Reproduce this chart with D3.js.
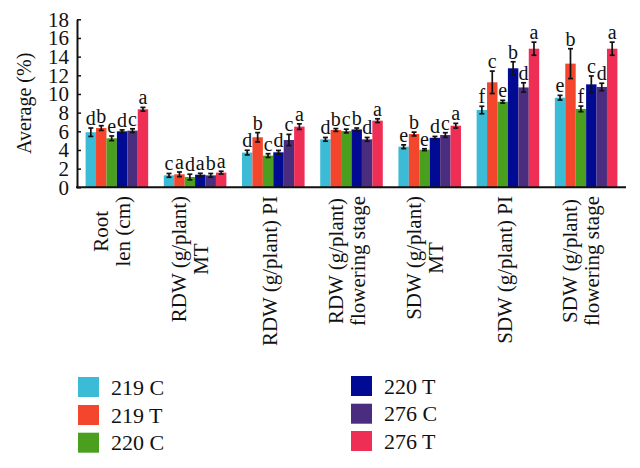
<!DOCTYPE html>
<html><head><meta charset="utf-8">
<script src="https://cdn.jsdelivr.net/npm/d3@7"></script>
<style>body{margin:0;background:#fff;} svg{display:block;}</style>
</head><body>
<svg id="chart" width="640" height="468"></svg>
<script>
const categories = [
  ["Root", "len (cm)"],
  ["RDW (g/plant)", "MT"],
  ["RDW (g/plant) PI"],
  ["RDW (g/plant)", "flowering stage"],
  ["SDW (g/plant)", "MT"],
  ["SDW (g/plant) PI"],
  ["SDW (g/plant)", "flowering stage"]
];
const seriesNames = ["219 C", "219 T", "220 C", "220 T", "276 C", "276 T"];
const seriesColors = ["#3bbbd6", "#f4452d", "#4a9f1e", "#000a92", "#4b2d7f", "#ee2e55"];

const v219C = [5.9, 1.28, 3.72, 5.14, 4.35, 8.28, 9.6];
const v219T = [6.35, 1.39, 5.36, 6.14, 5.71, 11.25, 13.25];
const v220C = [5.25, 1.1, 3.4, 6.03, 4.03, 9.17, 8.4];
const v220T = [6.0, 1.35, 3.75, 6.2, 5.3, 12.75, 11.03];
const v276C = [6.07, 1.28, 5.07, 5.14, 5.6, 10.7, 10.75];
const v276T = [8.36, 1.57, 6.5, 7.14, 6.6, 14.85, 14.85];

const e219C = [0.45, 0.2, 0.25, 0.2, 0.2, 0.4, 0.25];
const e219T = [0.25, 0.25, 0.5, 0.15, 0.2, 1.2, 1.6];
const e220C = [0.25, 0.3, 0.2, 0.2, 0.1, 0.15, 0.3];
const e220T = [0.15, 0.15, 0.2, 0.15, 0.15, 0.7, 0.9];
const e276C = [0.2, 0.2, 0.6, 0.2, 0.25, 0.5, 0.4];
const e276T = [0.2, 0.15, 0.3, 0.2, 0.25, 0.7, 0.7];

const l219C = ["d", "c", "d", "d", "e", "f", "e"];
const l219T = ["b", "a", "b", "b", "b", "c", "b"];
const l220C = ["e", "d", "c", "c", "e", "e", "f"];
const l220T = ["d", "a", "d", "b", "d", "b", "c"];
const l276C = ["c", "b", "c", "d", "c", "d", "d"];
const l276T = ["a", "a", "a", "a", "a", "a", "a"];

const yTicks = [0, 2, 4, 6, 8, 10, 12, 14, 16, 18];

const values = [v219C, v219T, v220C, v220T, v276C, v276T];
const errors = [e219C, e219T, e220C, e220T, e276C, e276T];
const letters = [l219C, l219T, l220C, l220T, l276C, l276T];

const FONT = "'Liberation Serif', 'Times New Roman', serif";
const INK = "#111";
const svg = d3.select("#chart");

const x0 = d3.scaleBand().domain(d3.range(categories.length)).range([77, 626])
  .paddingInner(0.2).paddingOuter(0.11);
const x1 = d3.scaleBand().domain(d3.range(seriesNames.length)).range([0, x0.bandwidth()]).padding(0);
const y = d3.scaleLinear().domain([0, 18]).range([187.3, 19.3]);

const data = [];
categories.forEach((c, ci) => {
  seriesNames.forEach((s, si) => {
    data.push({ci, si, v: values[si][ci], e: errors[si][ci], l: letters[si][ci]});
  });
});

// bars
svg.append("g").selectAll("rect").data(data).join("rect")
  .attr("x", d => x0(d.ci) + x1(d.si))
  .attr("width", x1.bandwidth())
  .attr("y", d => y(d.v))
  .attr("height", d => y(0) - y(d.v))
  .attr("fill", d => seriesColors[d.si]);

// error bars
const eg = svg.append("g").attr("stroke", INK).attr("stroke-width", 1.7);
data.forEach(d => {
  const cx = x0(d.ci) + x1(d.si) + x1.bandwidth() / 2;
  const yt = y(d.v + d.e), yb = y(d.v - d.e);
  eg.append("line").attr("x1", cx).attr("x2", cx).attr("y1", yt).attr("y2", yb);
  eg.append("line").attr("x1", cx - 2.5).attr("x2", cx + 2.5).attr("y1", yt).attr("y2", yt);
  eg.append("line").attr("x1", cx - 2.5).attr("x2", cx + 2.5).attr("y1", yb).attr("y2", yb);
});

// letters
svg.append("g").selectAll("text").data(data).join("text")
  .attr("x", d => x0(d.ci) + x1(d.si) + x1.bandwidth() / 2)
  .attr("y", d => y(d.v + d.e) - 3)
  .attr("text-anchor", "middle")
  .attr("font-family", FONT).attr("font-size", 20).attr("fill", INK)
  .text(d => d.l);

// y axis
const yAxis = d3.axisLeft(y).tickValues(yTicks).tickSizeInner(-4).tickSizeOuter(0).tickPadding(8);
const ya = svg.append("g").attr("transform", "translate(77,0)").call(yAxis);
ya.select(".domain").attr("stroke", INK).attr("stroke-width", 2);
ya.selectAll(".tick line").attr("stroke", INK).attr("stroke-width", 1.5);
ya.selectAll(".tick text").attr("font-family", FONT).attr("font-size", 21).attr("fill", INK);

// x axis line
svg.append("line").attr("x1", 76).attr("x2", 626).attr("y1", y(0)).attr("y2", y(0))
  .attr("stroke", INK).attr("stroke-width", 2);

// y title
svg.append("text").attr("transform", `translate(31,${(y(0) + y(18)) / 2}) rotate(-90)`)
  .attr("text-anchor", "middle").attr("font-family", FONT).attr("font-size", 20).attr("fill", INK)
  .text("Average (%)");

// category labels
categories.forEach((lines, ci) => {
  const cx = x0(ci) + x0.bandwidth() / 2;
  const g = svg.append("g").attr("transform", `translate(${cx},196) rotate(-90)`);
  const texts = lines.map((ln, i) => {
    const dy = lines.length === 1 ? 4 : (i === 0 ? -9 : 13);
    return g.append("text").attr("y", dy).attr("font-family", FONT).attr("font-size", 21)
      .attr("fill", INK).attr("text-anchor", "middle").text(ln);
  });
  const maxW = d3.max(texts, t => t.node().getComputedTextLength());
  texts.forEach(t => t.attr("x", -maxW / 2));
});

// legend
const legPos = [[78, 387], [78, 415], [78, 442.7], [351, 386], [351, 413.7], [351, 441]];
const lg = svg.append("g");
seriesNames.forEach((s, i) => {
  const [lx, ly] = legPos[i];
  lg.append("rect").attr("x", lx).attr("y", ly - 10).attr("width", 21).attr("height", 20)
    .attr("fill", seriesColors[i]);
  lg.append("text").attr("x", lx + 33).attr("y", ly + 7.5).attr("font-family", FONT)
    .attr("font-size", 22).attr("fill", INK).text(s);
});
</script>
</body></html>
